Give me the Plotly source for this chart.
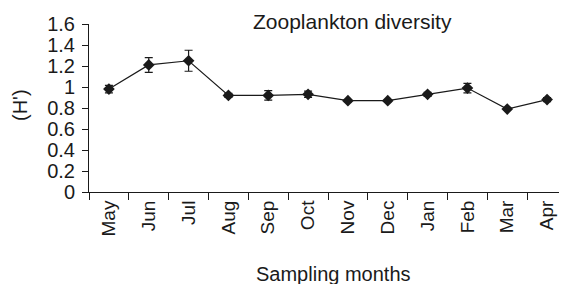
import plotly.graph_objects as go

months = ["May", "Jun", "Jul", "Aug", "Sep", "Oct", "Nov", "Dec", "Jan", "Feb", "Mar", "Apr"]
diversity = [0.98, 1.21, 1.25, 0.92, 0.92, 0.93, 0.87, 0.87, 0.93, 0.99, 0.79, 0.88]
errors = [0.035, 0.07, 0.10, 0.02, 0.045, 0.03, 0.01, 0.01, 0.02, 0.045, 0.01, 0.02]
y_ticks = [0, 0.2, 0.4, 0.6, 0.8, 1, 1.2, 1.4, 1.6]
y_labels = ["0", "0.2", "0.4", "0.6", "0.8", "1", "1.2", "1.4", "1.6"]

FONT = "Liberation Sans, Arial, sans-serif"
INK = "#1a1a1a"

# page body has an 8px default margin; figure is sized to fit the window
OFF = 8
W, H = 567 - OFF, 284 - OFF
L, R, T, B = 89 - OFF, 0, 24 - OFF, 284 - 192
PW = W - L - R
PH = H - T - B


def px(sx):
    return (sx - OFF - L) / PW


def py(sy):
    return (T + PH - (sy - OFF)) / PH


fig = go.Figure()
fig.add_trace(go.Scatter(
    x=months, y=diversity, mode="lines+markers",
    line=dict(color=INK, width=1.2),
    marker=dict(symbol="diamond", size=9, color=INK),
    error_y=dict(type="data", array=errors, visible=True, color=INK, thickness=1.2, width=4),
    showlegend=False,
    cliponaxis=False,
))

fig.update_layout(
    width=W, height=H,
    margin=dict(l=L, r=R, t=T, b=B, autoexpand=False),
    paper_bgcolor="white", plot_bgcolor="white",
    font=dict(family=FONT, color=INK, size=19),
    xaxis=dict(
        type="category", tickson="boundaries", ticks="outside", ticklen=7,
        tickcolor=INK, tickwidth=1, showline=True, linecolor=INK, linewidth=1,
        showgrid=False, tickangle=-90, tickfont=dict(size=19, family=FONT, color=INK),
        range=[-0.5, 11.5], automargin=False,
    ),
    yaxis=dict(
        range=[0, 1.6], tickvals=y_ticks, ticktext=y_labels, ticks="outside", ticklen=6,
        tickcolor=INK, tickwidth=1, showline=True, linecolor=INK, linewidth=1,
        showgrid=False, zeroline=False, tickfont=dict(size=20, family=FONT, color=INK),
        ticklabelstandoff=3, automargin=False,
    ),
)

fig.add_annotation(text="Zooplankton diversity", x=px(352), y=py(21), xref="paper", yref="paper",
                   showarrow=False, xanchor="center", yanchor="middle",
                   font=dict(size=21, family=FONT, color=INK))
fig.add_annotation(text="(H')", x=px(20), y=py(105), xref="paper", yref="paper",
                   showarrow=False, xanchor="center", yanchor="middle", textangle=-90,
                   font=dict(size=20, family=FONT, color=INK))
fig.add_annotation(text="Sampling months", x=px(333), y=py(274), xref="paper", yref="paper",
                   showarrow=False, xanchor="center", yanchor="middle",
                   font=dict(size=20, family=FONT, color=INK))

fig.write_html("out.html")
